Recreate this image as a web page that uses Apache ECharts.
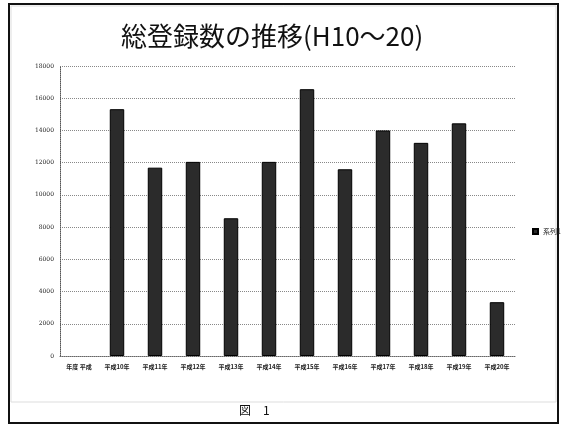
<!DOCTYPE html>
<html>
<head>
<meta charset="utf-8">
<script src="https://cdn.jsdelivr.net/npm/echarts@6/dist/echarts.min.js"></script>
<style>
  html, body { margin: 0; padding: 0; background: #fff; }
  #chart { width: 567px; height: 426px; }
</style>
</head>
<body>
<div id="chart"></div>
<script>
// 年度別の総登録数
const categories = ['年度 平成', '平成10年', '平成11年', '平成12年', '平成13年', '平成14年',
  '平成15年', '平成16年', '平成17年', '平成18年', '平成19年', '平成20年'];
const series1 = [null, 15320, 11690, 12050, 8550, 12050, 16560, 11590, 14000, 13230, 14440, 3340];
const seriesName = '系列1';
const titleText = '総登録数の推移(H10～20)';
const captionText = '図　1';
const yMin = 0, yMax = 18000, yStep = 2000;

const chart = echarts.init(document.getElementById('chart'), null, { renderer: 'canvas' });
const cjk = '"Noto Sans CJK JP", "Noto Sans", sans-serif';

chart.setOption({
  animation: false,
  backgroundColor: '#fff',
  title: {
    text: titleText,
    left: 116,
    top: 18,
    textStyle: { fontFamily: cjk, fontSize: 26, fontWeight: 'normal', color: '#111' }
  },
  legend: {
    data: [seriesName],
    left: 527,
    top: 223,
    orient: 'vertical',
    icon: 'rect',
    itemWidth: 5,
    itemHeight: 5,
    itemGap: 3,
    textStyle: { fontFamily: cjk, fontSize: 7, color: '#222', width: 30, overflow: 'none' }
  },
  grid: { left: 60, right: 51, top: 66, bottom: 70, containLabel: false },
  xAxis: {
    type: 'category',
    data: categories,
    axisLine: { show: true, lineStyle: { color: '#666', type: 'dotted', width: 1 } },
    axisTick: { show: false },
    axisLabel: { fontFamily: cjk, fontSize: 6, color: '#222', margin: 8, interval: 0, fontWeight: 'bold' }
  },
  yAxis: {
    type: 'value',
    min: yMin,
    max: yMax,
    interval: yStep,
    axisLine: { show: true, lineStyle: { color: '#555', type: 'dotted', width: 1 } },
    axisTick: { show: false },
    axisLabel: {
      fontFamily: '"DejaVu Serif", serif', fontSize: 6, color: '#222', margin: 6,
      formatter: v => String(v)
    },
    splitLine: { show: true, lineStyle: { color: '#888', type: 'dotted', width: 1 } }
  },
  series: [{
    name: seriesName,
    type: 'bar',
    data: series1,
    barWidth: '38%',
    itemStyle: { color: '#2b2b2b', borderColor: '#000', borderWidth: 1 }
  }],
  graphic: [
    {
      type: 'rect',
      shape: { x: 9, y: 4, width: 549, height: 419 },
      style: { fill: 'none', stroke: '#111', lineWidth: 2 },
      silent: true
    },
    {
      type: 'rect',
      shape: { x: 11, y: 6, width: 545, height: 396 },
      style: { fill: 'none', stroke: '#ddd', lineWidth: 1 },
      silent: true
    },
    {
      type: 'text',
      left: 239,
      top: 404,
      style: { text: captionText, font: '12px ' + cjk, fill: '#111' },
      silent: true
    }
  ]
});
</script>
</body>
</html>
